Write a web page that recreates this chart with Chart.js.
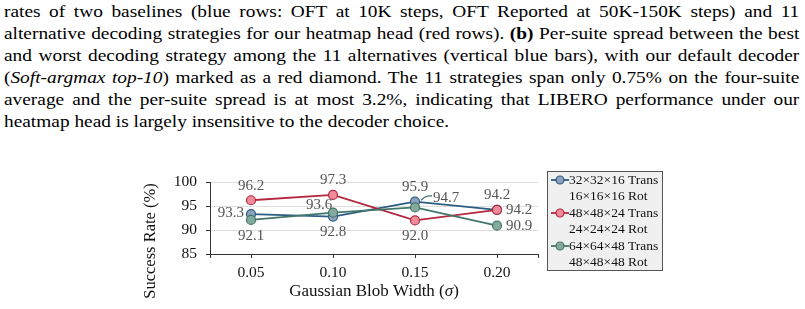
<!DOCTYPE html>
<html>
<head>
<meta charset="utf-8">
<script src="https://cdn.jsdelivr.net/npm/chart.js@4.4.1/dist/chart.umd.min.js"></script>
<style>
  html, body { margin: 0; padding: 0; background: #fff; }
  #wrap { position: relative; width: 805px; height: 309px; overflow: hidden; }
  #caption {
    position: absolute; left: 4px; top: 0; width: 723px;
    transform: scaleX(1.1); transform-origin: 0 0;
    font-family: "Liberation Serif", "Times New Roman", serif;
    font-size: 17.6px; line-height: 22px; color: #000;
  }
  #caption div { text-align: justify; text-align-last: justify; white-space: nowrap; }
  #caption div.last { text-align-last: left; }
  #chart-box { position: absolute; left: 0; top: 0; width: 805px; height: 309px; }
</style>
</head>
<body>
<div id="wrap">
  <div id="caption">
    <div>rates of two baselines (blue rows: OFT at 10K steps, OFT Reported at 50K-150K steps) and 11</div>
    <div>alternative decoding strategies for our heatmap head (red rows). <b>(b)</b> Per-suite spread between the best</div>
    <div>and worst decoding strategy among the 11 alternatives (vertical blue bars), with our default decoder</div>
    <div>(<i>Soft-argmax top-10</i>) marked as a red diamond. The 11 strategies span only 0.75% on the four-suite</div>
    <div>average and the per-suite spread is at most 3.2%, indicating that LIBERO performance under our</div>
    <div class="last">heatmap head is largely insensitive to the decoder choice.</div>
  </div>
  <div id="chart-box"><canvas id="chart"></canvas></div>
</div>
<script>
// ---------------------------------------------
// データ
// ---------------------------------------------
const blobWidths = [0.05, 0.10, 0.15, 0.20]
const rate32 = [93.3, 92.8, 95.9, 94.2]
const rate48 = [96.2, 97.3, 92.0, 94.2]
const rate64 = [92.1, 93.6, 94.7, 90.9]
const yTicks = [85, 90, 95, 100]
const legend32 = ['32×32×16 Trans', '16×16×16 Rot']
const legend48 = ['48×48×24 Trans', '24×24×24 Rot']
const legend64 = ['64×64×48 Trans', '48×48×48 Rot']

// ラベル配置 (点ごと)
const labelPos32 = ['left', 'below', 'above', 'above']
const labelPos48 = ['above', 'above', 'below', 'right']
const labelPos64 = ['below', 'aboveLeft', 'leader', 'right']

// ---------------------------------------------
// スタイル
// ---------------------------------------------
const SERIF = '"Liberation Serif", "Times New Roman", serif'
const COLORS = {
  c32: { line: '#2b5d83', fill: '#8ea2bd' },
  c48: { line: '#b3283e', fill: '#ef8c99' },
  c64: { line: '#43766a', fill: '#83aa9d' },
}
const OFFSETS = {
  above:     { dx: 0,   dy: -14.5, align: 'center' },
  below:     { dx: 0,   dy: 16,    align: 'center' },
  left:      { dx: -7,  dy: -1,    align: 'right' },
  right:     { dx: 9,   dy: 0,     align: 'left' },
  aboveLeft: { dx: -14, dy: -7.5,  align: 'center' },
  leader:    { dx: 18,  dy: -9.5,  align: 'left' },
}

function makeDataset(values, color, label, order, positions) {
  return {
    label,
    data: values.map((v, i) => ({ x: blobWidths[i], y: v })),
    borderColor: color.line,
    backgroundColor: color.fill,
    pointBackgroundColor: color.fill,
    pointBorderColor: color.line,
    pointBorderWidth: 1.2,
    pointRadius: 4.5,
    borderWidth: 1.8,
    tension: 0,
    order,
    labelPositions: positions,
  }
}

// 値ラベル
const valueLabels = {
  id: 'valueLabels',
  afterDatasetsDraw(chart) {
    const ctx = chart.ctx
    ctx.save()
    ctx.font = `15px ${SERIF}`
    ctx.fillStyle = '#555'
    ctx.textBaseline = 'middle'
    chart.data.datasets.forEach((ds, di) => {
      const meta = chart.getDatasetMeta(di)
      meta.data.forEach((pt, i) => {
        const o = OFFSETS[ds.labelPositions[i]]
        ctx.textAlign = o.align
        ctx.fillText(ds.data[i].y.toFixed(1), pt.x + o.dx, pt.y + o.dy)
        if (ds.labelPositions[i] === 'leader') {
          ctx.strokeStyle = ds.borderColor
          ctx.lineWidth = 1.2
          ctx.beginPath()
          ctx.moveTo(pt.x + 6, pt.y - 7)
          ctx.quadraticCurveTo(pt.x + 10, pt.y - 12, pt.x + 17, pt.y - 11.5)
          ctx.stroke()
        }
      })
    })
    ctx.restore()
  }
}

// 軸タイトル・凡例
const decorations = {
  id: 'decorations',
  afterDraw(chart) {
    const ctx = chart.ctx
    const area = chart.chartArea
    ctx.save()
    ctx.fillStyle = '#111'
    ctx.textBaseline = 'middle'

    // y 軸タイトル
    ctx.save()
    ctx.translate(151, 241)
    ctx.rotate(-Math.PI / 2)
    ctx.textAlign = 'center'
    ctx.font = `16.5px ${SERIF}`
    ctx.fillText('Success Rate (%)', 0, 0)
    ctx.restore()

    // x 軸タイトル (σ はイタリック)
    const cx = (area.left + area.right) / 2
    const partA = 'Gaussian Blob Width ('
    const partB = 'σ'
    const partC = ')'
    ctx.font = `17px ${SERIF}`
    const wA = ctx.measureText(partA).width
    const wC = ctx.measureText(partC).width
    ctx.font = `italic 17px ${SERIF}`
    const wB = ctx.measureText(partB).width
    const x = cx - (wA + wB + wC) / 2
    ctx.textAlign = 'left'
    ctx.font = `17px ${SERIF}`
    ctx.fillText(partA, x, 292)
    ctx.font = `italic 17px ${SERIF}`
    ctx.fillText(partB, x + wA, 292)
    ctx.font = `17px ${SERIF}`
    ctx.fillText(partC, x + wA + wB, 292)

    // 凡例
    const lx = 547, ly = 171, lw = 115, lh = 99
    ctx.fillStyle = '#f0f0f0'
    ctx.fillRect(lx, ly, lw, lh)
    ctx.strokeStyle = '#555'
    ctx.lineWidth = 1
    ctx.strokeRect(lx + 0.5, ly + 0.5, lw, lh)
    ctx.font = `13.5px ${SERIF}`
    ctx.textAlign = 'left'
    chart.data.datasets.forEach((ds, i) => {
      const y = 180 + i * 33
      ctx.strokeStyle = ds.borderColor
      ctx.lineWidth = 1.8
      ctx.beginPath()
      ctx.moveTo(551, y)
      ctx.lineTo(569, y)
      ctx.stroke()
      ctx.beginPath()
      ctx.arc(560, y, 4, 0, Math.PI * 2)
      ctx.fillStyle = ds.backgroundColor
      ctx.fill()
      ctx.lineWidth = 1.2
      ctx.stroke()
      ctx.fillStyle = '#111'
      ctx.fillText(ds.label[0], 569, y)
      ctx.fillText(ds.label[1], 569, y + 16)
    })
    ctx.restore()
  }
}

new Chart(document.getElementById('chart'), {
  type: 'line',
  data: {
    datasets: [
      makeDataset(rate32, COLORS.c32, legend32, 3, labelPos32),
      makeDataset(rate48, COLORS.c48, legend48, 2, labelPos48),
      makeDataset(rate64, COLORS.c64, legend64, 1, labelPos64),
    ]
  },
  options: {
    responsive: true,
    maintainAspectRatio: false,
    animation: false,
    layout: { padding: { left: 140, right: 267, top: 182, bottom: 25 } },
    plugins: { legend: { display: false }, tooltip: { enabled: false } },
    scales: {
      x: {
        type: 'linear',
        min: 0.025,
        max: 0.225,
        afterBuildTicks(scale) {
          scale.ticks = [0.025, ...blobWidths, 0.225].map(v => ({ value: v }))
        },
        afterFit(scale) { scale.height = 30 },
        ticks: {
          autoSkip: false,
          maxRotation: 0,
          padding: 6,
          color: '#111',
          font: { family: SERIF, size: 15.5 },
          callback: v => blobWidths.includes(v) ? v.toFixed(2) : ''
        },
        grid: { drawOnChartArea: false, tickLength: 4, tickColor: '#333' },
        border: { color: '#333', width: 1 }
      },
      y: {
        min: 85,
        max: 100,
        afterBuildTicks(scale) {
          scale.ticks = yTicks.map(v => ({ value: v }))
        },
        afterFit(scale) { scale.width = 70 },
        ticks: {
          padding: 9,
          color: '#111',
          font: { family: SERIF, size: 15.5 }
        },
        grid: { color: '#dddddd', lineWidth: 1, tickLength: 4, tickColor: '#333' },
        border: { color: '#333', width: 1 }
      }
    }
  },
  plugins: [valueLabels, decorations]
})
</script>
</body>
</html>
